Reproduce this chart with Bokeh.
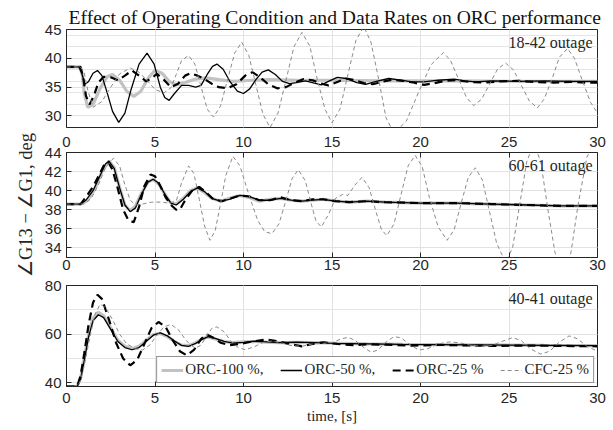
from bokeh.plotting import figure
from bokeh.layouts import column
from bokeh.models import Range1d, LinearAxis, FixedTicker, Label, Legend, LegendItem, Grid
from bokeh.embed import file_html
from bokeh.resources import INLINE

# ---------------- data ----------------
x_ticks = [0, 5, 10, 15, 20, 25, 30]
top_yticks = [30, 35, 40, 45]
mid_yticks = [34, 36, 38, 40, 42, 44]
bot_yticks = [40, 60, 80]
series_names = ["ORC-100 %,", "ORC-50 %,", "ORC-25 %", "CFC-25 %"]
panel_titles = ["18-42 outage", "60-61 outage", "40-41 outage"]
chart_title = "Effect of Operating Condition and Data Rates on ORC performance"

# ---- 18-42 outage ----
a_orc100_t = [0, 0.75, 0.9, 1.0, 1.2, 1.5, 1.9, 2.3, 2.6, 3.0, 3.4, 3.8, 4.2, 4.6, 5.0, 5.4, 5.8, 6.2, 6.7, 7.3, 7.9, 8.6, 9.4, 10.5, 11.5, 13, 15, 18, 22, 26, 30]
a_orc100_y = [38.5, 38.5, 37.0, 34.0, 31.5, 32.0, 34.8, 36.8, 37.2, 36.2, 34.3, 33.4, 34.3, 36.5, 37.9, 37.4, 36.0, 35.4, 35.8, 36.4, 36.6, 36.3, 36.0, 36.2, 36.3, 36.2, 36.2, 36.1, 36.1, 36.0, 36.0]

a_orc50_t = [0, 0.7, 0.85, 1.05, 1.25, 1.5, 1.75, 2.0, 2.3, 2.6, 2.95, 3.3, 3.65, 4.1, 4.55, 4.95, 5.3, 5.55, 5.8, 6.1, 6.5, 6.9, 7.3, 7.6, 7.95, 8.25, 8.5, 8.85, 9.25, 9.65, 10.0, 10.35, 10.7, 11.05, 11.4, 11.8, 12.2, 12.6, 13.0, 13.5, 14.0, 14.4, 14.8, 15.3, 15.8, 16.4, 16.9, 17.5, 18.2, 18.9, 19.5, 20.2, 21.0, 21.9, 22.5, 23.1, 24.0, 25.5, 27, 28.5, 30]
a_orc50_y = [38.5, 38.5, 37.5, 35.5, 36.0, 37.4, 37.9, 37.0, 34.0, 30.8, 28.9, 30.5, 34.6, 39.0, 40.9, 39.0, 35.0, 33.2, 32.7, 33.9, 35.3, 35.3, 35.0, 35.3, 37.2, 38.6, 39.0, 38.1, 35.9, 34.3, 33.9, 34.7, 36.3, 37.6, 38.0, 37.2, 36.0, 35.6, 35.8, 36.1, 35.7, 35.4, 36.0, 36.7, 36.5, 35.8, 35.5, 36.0, 36.5, 36.2, 35.9, 35.9, 36.2, 36.4, 36.1, 35.9, 36.1, 36.0, 36.1, 36.0, 36.0]

a_orc25_t = [0, 0.8, 0.95, 1.1, 1.3, 1.55, 1.8, 2.1, 2.5, 2.9, 3.3, 3.7, 4.1, 4.5, 4.8, 5.1, 5.5, 5.9, 6.3, 6.7, 7.0, 7.4, 7.8, 8.2, 8.6, 9.1, 9.6, 10.1, 10.5, 10.9, 11.4, 11.9, 12.4, 12.9, 13.4, 13.9, 14.4, 14.8, 15.3, 15.8, 16.3, 16.8, 17.3, 17.8, 18.4, 19.0, 19.6, 20.2, 20.8, 21.4, 22.0, 22.8, 23.6, 24.5, 25.5, 26.5, 27.5, 28.5, 29.3, 30]
a_orc25_y = [38.5, 38.5, 36.5, 33.5, 32.0, 33.5, 35.8, 36.8, 36.7, 36.2, 37.0, 37.9, 37.0, 36.0, 36.5, 37.3, 36.3, 35.0, 35.6, 37.0, 37.4, 37.0, 36.4, 35.6, 35.0, 34.8, 35.5, 37.0, 37.6, 36.8, 35.5, 34.8, 35.0, 35.8, 36.4, 36.2, 35.6, 35.3, 35.9, 36.5, 36.2, 35.7, 35.5, 35.9, 36.3, 36.1, 35.8, 35.4, 35.7, 36.1, 36.2, 35.9, 35.8, 36.0, 36.1, 35.9, 35.8, 35.9, 35.8, 35.8]

a_cfc_t = [0, 0.8, 1.0, 1.2, 1.5, 2.0, 2.5, 3.0, 3.6, 4.1, 4.6, 5.0, 5.5, 5.9, 6.2, 6.5, 6.9, 7.25, 7.6, 7.95, 8.3, 8.7, 9.1, 9.5, 9.9, 10.3, 10.7, 11.1, 11.5, 11.95, 12.4, 12.85, 13.3, 13.75, 14.15, 14.6, 15.0, 15.45, 15.9, 16.35, 16.8, 17.2, 17.65, 18.05, 18.5, 19.2, 19.9, 20.6, 21.3, 21.7, 22.15, 22.6, 23.0, 23.45, 23.9, 24.35, 24.8, 25.25, 25.7, 26.15, 26.6, 27.0, 27.45, 27.85, 28.3, 28.7, 29.15, 29.6, 30.0]
a_cfc_y = [38.5, 38.5, 37.5, 34.5, 31.5, 32.5, 35.0, 37.3, 38.3, 37.6, 36.0, 34.6, 34.0, 34.9, 37.2, 39.6, 40.5, 39.0, 35.1, 31.2, 29.8, 31.7, 36.3, 40.9, 42.8, 40.5, 35.4, 30.3, 28.0, 30.5, 36.2, 42.0, 44.5, 42.1, 36.6, 31.2, 28.8, 31.2, 37.2, 43.1, 45.5, 42.8, 36.2, 29.7, 27.0, 29.1, 34.2, 38.9, 41.0, 39.6, 36.4, 33.2, 31.8, 32.9, 35.5, 38.1, 39.2, 38.0, 35.3, 32.6, 31.4, 33.0, 36.6, 40.2, 41.7, 40.0, 36.1, 32.4, 30.5]

# ---- 60-61 outage ----
b_orc100_t = [0, 0.8, 1.2, 1.6, 2.0, 2.4, 2.7, 3.0, 3.3, 3.6, 3.9, 4.2, 4.6, 4.9, 5.2, 5.6, 5.9, 6.2, 6.6, 7.0, 7.4, 7.8, 8.2, 8.7, 9.2, 9.8, 10.3, 10.9, 11.5, 12.1, 12.7, 13.3, 13.9, 14.5, 15.2, 16.0, 17.0, 18.0, 20.0, 22.0, 24.0, 26.0, 28.0, 30.0]
b_orc100_y = [38.6, 38.6, 39.0, 40.2, 42.0, 43.1, 42.4, 40.3, 38.5, 37.9, 38.4, 39.6, 40.9, 41.2, 40.7, 39.5, 38.7, 38.6, 39.2, 40.0, 40.3, 39.8, 39.2, 38.9, 39.2, 39.5, 39.3, 38.9, 39.1, 39.2, 39.0, 38.9, 39.0, 39.1, 38.9, 38.8, 38.9, 38.8, 38.7, 38.7, 38.6, 38.5, 38.4, 38.4]

b_orc50_t = [0, 0.8, 1.1, 1.5, 1.9, 2.2, 2.4, 2.7, 3.0, 3.3, 3.6, 3.9, 4.2, 4.6, 4.9, 5.2, 5.6, 5.9, 6.2, 6.6, 7.0, 7.4, 7.8, 8.2, 8.7, 9.2, 9.8, 10.3, 10.9, 11.5, 12.1, 12.7, 13.3, 13.9, 14.5, 15.2, 16.0, 17.0, 18.0, 20.0, 22.0, 24.0, 26.0, 28.0, 30.0]
b_orc50_y = [38.6, 38.6, 39.0, 40.0, 41.6, 42.8, 43.1, 42.3, 40.3, 38.5, 37.8, 38.2, 39.5, 40.9, 41.2, 40.8, 39.5, 38.7, 38.5, 39.1, 39.9, 40.3, 39.9, 39.2, 38.9, 39.1, 39.5, 39.4, 39.0, 39.0, 39.2, 39.0, 38.9, 39.0, 39.1, 38.9, 38.8, 38.9, 38.8, 38.7, 38.7, 38.6, 38.5, 38.4, 38.4]

b_orc25_t = [0, 0.8, 1.2, 1.5, 1.8, 2.1, 2.35, 2.6, 2.9, 3.2, 3.5, 3.8, 4.1, 4.4, 4.75, 5.0, 5.3, 5.6, 5.9, 6.2, 6.4, 6.7, 7.1, 7.5, 7.9, 8.3, 8.8, 9.3, 9.8, 10.3, 10.9, 11.5, 12.1, 12.7, 13.3, 13.9, 14.5, 15.2, 16.0, 17.0, 18.0, 20.0, 22.0, 24.0, 26.0, 28.0, 30.0]
b_orc25_y = [38.6, 38.6, 39.6, 40.4, 41.5, 42.6, 43.0, 42.2, 40.2, 38.0, 36.9, 36.7, 38.3, 40.5, 41.7, 41.5, 40.5, 39.3, 38.5, 38.0, 38.0, 39.0, 40.0, 40.4, 39.8, 39.1, 38.9, 39.2, 39.5, 39.4, 39.0, 39.0, 39.3, 39.0, 38.9, 39.1, 39.1, 38.9, 38.8, 38.9, 38.8, 38.7, 38.7, 38.6, 38.5, 38.4, 38.4]

b_cfc_t = [0, 1.0, 1.4, 1.8, 2.2, 2.65, 3.0, 3.3, 3.6, 3.9, 4.3, 4.8, 5.3, 5.8, 6.2, 6.5, 6.9, 7.2, 7.5, 7.8, 8.1, 8.4, 8.7, 9.0, 9.4, 9.8, 10.3, 10.8, 11.2, 11.6, 12.0, 12.4, 12.75, 13.1, 13.5, 13.8, 14.1, 14.4, 14.8, 15.2, 15.6, 15.9, 16.3, 16.7, 17.1, 17.5, 17.8, 18.1, 18.5, 18.9, 19.3, 19.7, 20.1, 20.5, 21.0, 21.5, 21.9, 22.3, 22.7, 23.1, 23.5, 23.9, 24.3, 24.8, 25.2, 25.6, 26.0, 26.4, 26.8, 27.2, 27.6, 28.1, 28.5, 28.9, 29.4, 29.8, 30.0]
b_cfc_y = [38.6, 38.6, 39.2, 40.6, 42.4, 43.4, 42.6, 40.6, 39.0, 38.5, 38.6, 38.8, 38.8, 38.7, 38.9, 40.8, 42.6, 41.8, 39.1, 36.3, 34.8, 35.8, 38.6, 41.6, 43.6, 42.6, 39.6, 36.9, 35.7, 35.5, 36.5, 39.0, 41.3, 42.2, 41.0, 38.8, 36.8, 36.2, 37.5, 39.2, 39.6, 39.5, 40.6, 41.4, 40.3, 37.7, 35.9, 35.3, 36.5, 39.6, 42.6, 43.7, 42.5, 39.3, 36.2, 34.8, 35.9, 38.7, 41.4, 42.4, 41.1, 37.8, 34.5, 32.5, 34.0, 38.5, 43.0, 45.0, 43.0, 38.0, 33.5, 31.5, 33.5, 38.5, 43.5, 45.0, 44.5]

# ---- 40-41 outage ----
c_orc100_t = [0, 0.6, 0.8, 1.0, 1.25, 1.5, 1.8, 2.1, 2.5, 2.9, 3.3, 3.7, 4.1, 4.5, 4.9, 5.3, 5.7, 6.1, 6.5, 6.9, 7.3, 7.7, 8.0, 8.4, 8.9, 9.4, 10.0, 10.6, 11.3, 12.0, 13.0, 14.0, 15.0, 17.0, 19.0, 21.0, 23.0, 25.0, 27.0, 30.0]
c_orc100_y = [38.5, 38.5, 42, 50, 60, 66.5, 69.0, 67.5, 62.5, 57.5, 55.0, 54.0, 55.0, 57.5, 59.8, 60.3, 59.0, 57.0, 55.5, 55.3, 56.5, 58.2, 58.8, 58.0, 57.0, 56.5, 56.8, 57.0, 56.7, 56.5, 56.6, 56.5, 56.3, 56.0, 55.8, 55.7, 55.6, 55.5, 55.4, 55.3]

c_orc50_t = [0, 0.6, 0.8, 1.0, 1.25, 1.5, 1.8, 2.1, 2.5, 2.9, 3.3, 3.7, 4.1, 4.5, 4.9, 5.3, 5.7, 6.1, 6.5, 6.9, 7.3, 7.7, 8.0, 8.4, 8.9, 9.4, 10.0, 10.6, 11.3, 12.0, 13.0, 14.0, 15.0, 17.0, 19.0, 21.0, 23.0, 25.0, 27.0, 30.0]
c_orc50_y = [38.5, 38.5, 41.5, 49, 59, 65.5, 68.0, 66.8, 62.0, 57.0, 54.5, 53.6, 54.5, 57.0, 59.6, 60.5, 59.3, 57.2, 55.4, 55.0, 56.2, 58.0, 59.0, 58.3, 57.0, 56.3, 56.6, 57.1, 56.8, 56.5, 56.7, 56.5, 56.2, 56.0, 55.8, 55.7, 55.6, 55.5, 55.4, 55.3]

c_orc25_t = [0, 0.6, 0.8, 1.0, 1.25, 1.5, 1.75, 2.0, 2.4, 2.8, 3.2, 3.6, 4.0, 4.4, 4.8, 5.2, 5.6, 6.0, 6.4, 6.8, 7.2, 7.6, 7.9, 8.3, 8.7, 9.2, 9.8, 10.5, 11.3, 12.0, 12.7, 13.3, 13.9, 14.5, 15.3, 16.2, 17.0, 18.0, 19.5, 21.0, 22.5, 24.0, 26.0, 28.0, 30.0]
c_orc25_y = [38.5, 38.5, 43, 52, 64, 73, 76.2, 74.5, 66.0, 56.5, 50.0, 47.2, 49.5, 56.0, 62.5, 65.0, 63.0, 57.5, 53.0, 51.3, 53.5, 58.0, 60.0, 58.5, 56.5, 55.5, 56.0, 57.0, 57.8, 57.0, 55.8, 55.0, 56.0, 56.6, 56.0, 55.5, 55.8, 55.7, 55.3, 55.6, 55.4, 55.2, 55.3, 55.2, 55.0]

c_cfc_t = [0, 0.6, 0.8, 1.0, 1.3, 1.6, 1.9, 2.2, 2.6, 3.0, 3.4, 3.9, 4.3, 4.7, 5.1, 5.5, 5.9, 6.3, 6.7, 7.0, 7.3, 7.6, 7.9, 8.2, 8.5, 8.9, 9.3, 9.7, 10.1, 10.6, 11.1, 11.6, 12.1, 12.7, 13.3, 13.9, 14.5, 15.0, 15.5, 15.9, 16.3, 16.8, 17.2, 17.6, 18.0, 18.5, 18.9, 19.4, 19.9, 20.4, 21.0, 21.6, 22.2, 22.8, 23.4, 24.0, 24.6, 25.2, 25.7, 26.2, 26.8, 27.3, 27.8, 28.4, 28.9, 29.4, 30.0]
c_cfc_y = [38.5, 38.5, 41, 47, 58, 68, 72.3, 71.0, 66.0, 60.0, 56.0, 54.0, 53.5, 55.5, 59.5, 63.0, 64.0, 62.0, 58.0, 55.5, 54.3, 55.5, 59.0, 62.3, 63.0, 61.0, 57.0, 54.5, 53.6, 54.8, 56.6, 57.2, 56.5, 55.3, 55.0, 56.0, 56.2, 56.5, 58.0, 58.7, 57.5, 54.5, 52.6, 53.5, 56.5, 59.0, 58.5, 55.7, 53.5, 54.0, 56.0, 56.8, 56.5, 55.5, 55.0, 55.3, 57.0, 58.6, 57.3, 54.0, 51.8, 53.0, 56.5, 59.3, 58.0, 55.0, 53.0]

panels = [
    dict(yr=(28, 45), yt=top_yticks,
         data=[(a_orc100_t, a_orc100_y), (a_orc50_t, a_orc50_y), (a_orc25_t, a_orc25_y), (a_cfc_t, a_cfc_y)]),
    dict(yr=(33, 44), yt=mid_yticks,
         data=[(b_orc100_t, b_orc100_y), (b_orc50_t, b_orc50_y), (b_orc25_t, b_orc25_y), (b_cfc_t, b_cfc_y)]),
    dict(yr=(38.5, 80), yt=bot_yticks,
         data=[(c_orc100_t, c_orc100_y), (c_orc50_t, c_orc50_y), (c_orc25_t, c_orc25_y), (c_cfc_t, c_cfc_y)]),
]

# ---------------- styling ----------------
styles = [
    dict(line_color="#c2c2c2", line_width=3.2, line_dash="solid"),
    dict(line_color="#000000", line_width=1.3, line_dash="solid"),
    dict(line_color="#000000", line_width=2.2, line_dash="8 5"),
    dict(line_color="#8a8a8a", line_width=1.0, line_dash="4 3"),
]
AX = "#262626"
TICKFONT = "Liberation Sans"
SERIF = "Liberation Serif"
GRID = "#e2e2e2"

W = 613
heights = [128, 148, 154]
tops = [29, 24, 9]
bottoms = [1, 19, 44]


def mk_axis(ticks, standoff):
    return LinearAxis(ticker=FixedTicker(ticks=ticks), major_tick_in=5, major_tick_out=0,
                      minor_tick_line_color=None, axis_line_color=AX, major_tick_line_color=AX,
                      major_label_text_font=TICKFONT, major_label_text_font_size="15px",
                      major_label_text_color=AX, major_label_standoff=standoff)


figs = []
for i, pan in enumerate(panels):
    p = figure(width=W, height=heights[i], x_range=Range1d(0, 30), y_range=Range1d(*pan["yr"]),
               output_backend="svg", toolbar_location=None,
               x_axis_location=None, y_axis_location=None,
               min_border_left=66, min_border_right=16, min_border_top=tops[i], min_border_bottom=bottoms[i])
    p.outline_line_color = AX
    p.outline_line_width = 1
    p.background_fill_color = "white"
    p.add_layout(Grid(dimension=0, ticker=FixedTicker(ticks=x_ticks), grid_line_color=GRID))
    p.add_layout(Grid(dimension=1, ticker=FixedTicker(ticks=pan["yt"]), grid_line_color=GRID))

    yax = mk_axis(pan["yt"], 5)
    p.add_layout(yax, "left")

    renderers = []
    for (t, y), st in zip(pan["data"], styles):
        renderers.append(p.line(t, y, **st))

    p.add_layout(Label(x=30, y=pan["yr"][1], x_offset=-5, y_offset=-4, text=panel_titles[i],
                       text_align="right", text_baseline="top", text_font=SERIF,
                       text_font_size="16px", text_color="#262626"))

    if i == 0:
        p.title.text = chart_title
        p.title.align = "left"
        p.title.offset = 2
        p.title.vertical_align = "top"
        p.title.standoff = 0
        p.title.text_font = SERIF
        p.title.text_font_style = "normal"
        p.title.text_font_size = "19.6px"
        p.title.text_color = "#111111"
    if i == 1:
        # tick labels of the upper panel sit above this panel's frame
        upper = mk_axis(x_ticks, 6)
        p.add_layout(upper, "above")
        lower = mk_axis(x_ticks, 2)
        p.add_layout(lower, "below")
        yax.axis_label = "\u2220G13 \u2212 \u2220G1, deg"
        yax.axis_label_text_font = SERIF
        yax.axis_label_text_font_style = "normal"
        yax.axis_label_text_font_size = "18.5px"
        yax.axis_label_standoff = 6
        yax.axis_label_text_color = "#262626"
    if i == 2:
        lower = mk_axis(x_ticks, 6)
        lower.axis_label = "time, [s]"
        lower.axis_label_text_font = SERIF
        lower.axis_label_text_font_style = "normal"
        lower.axis_label_text_font_size = "15px"
        lower.axis_label_standoff = 2
        lower.axis_label_text_color = "#262626"
        p.add_layout(lower, "below")
        legend = Legend(items=[LegendItem(label=n, renderers=[r]) for n, r in zip(series_names, renderers)],
                        orientation="horizontal", location="bottom_right",
                        label_text_font=SERIF, label_text_font_size="15px", label_text_color="#262626",
                        glyph_width=22, glyph_height=16, label_standoff=2, spacing=17, padding=4, margin=3,
                        border_line_color=AX, border_line_width=0.6, background_fill_alpha=1.0)
        p.add_layout(legend)
    figs.append(p)

layout = column(*figs, spacing=0)
open("out.html", "w").write(file_html(layout, INLINE))
